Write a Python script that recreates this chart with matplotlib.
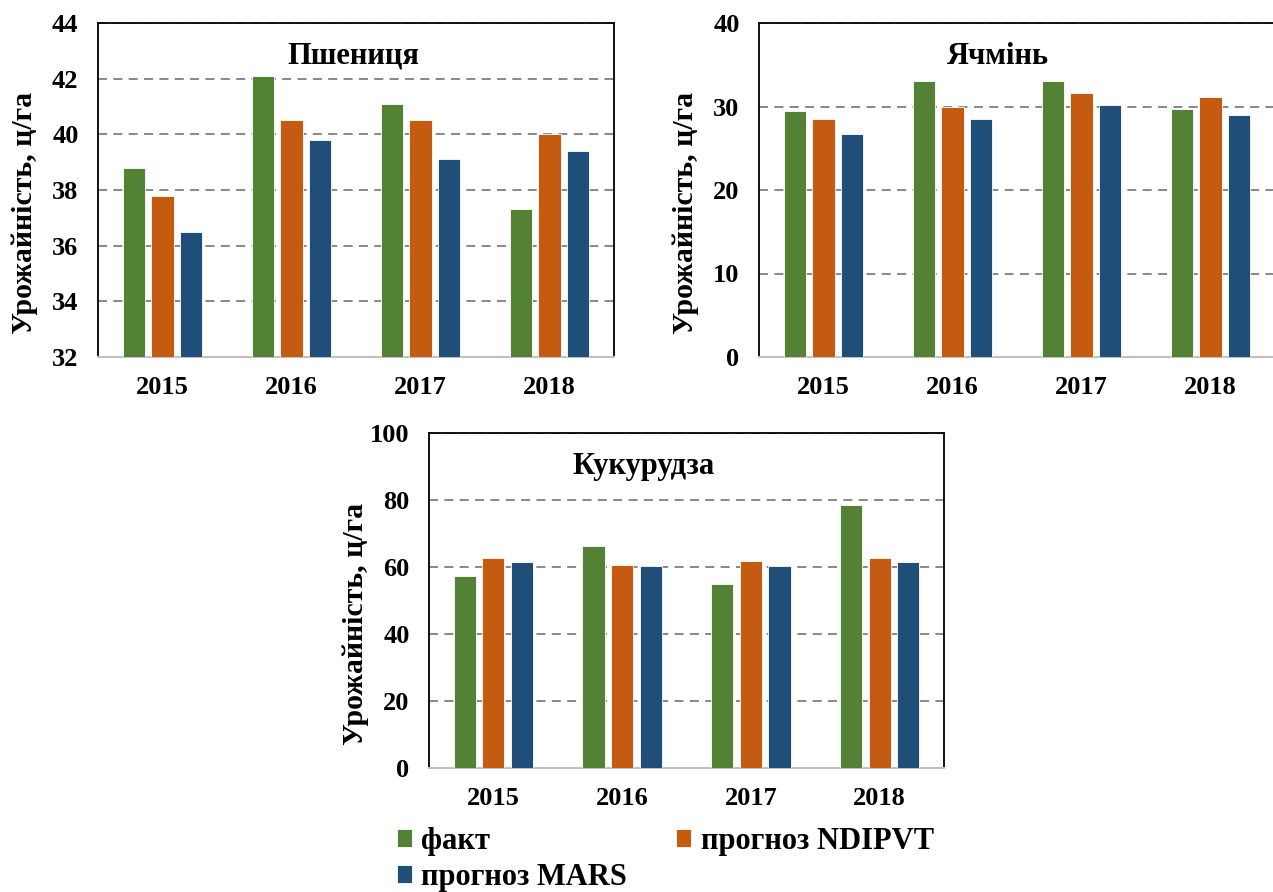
import matplotlib
matplotlib.use("Agg")
import matplotlib.pyplot as plt
import numpy as np

plt.rcParams['font.family'] = ['Liberation Serif', 'DejaVu Serif']
plt.rcParams['font.weight'] = 'bold'

years = ["2015", "2016", "2017", "2018"]

# Пшениця
wheat_fact = [38.8, 42.1, 41.1, 37.3]
wheat_ndipvt = [37.8, 40.5, 40.5, 40.0]
wheat_mars = [36.5, 39.8, 39.1, 39.4]

# Ячмінь
barley_fact = [29.5, 33.0, 33.0, 29.7]
barley_ndipvt = [28.5, 30.0, 31.6, 31.1]
barley_mars = [26.7, 28.5, 30.2, 29.0]

# Кукурудза
corn_fact = [57.3, 66.2, 54.9, 78.5]
corn_ndipvt = [62.6, 60.6, 61.8, 62.6]
corn_mars = [61.4, 60.2, 60.2, 61.4]

series_labels = ["факт", "прогноз NDIPVT", "прогноз MARS"]
colors = ["#548235", "#C55A11", "#1F4E79"]

W, H = 1273, 892
fig = plt.figure(figsize=(W / 100, H / 100), dpi=100)


def px_rect(l, t, r, b):
    return [l / W, 1 - b / H, (r - l) / W, (b - t) / H]


def panel(rect, title, data, ylim, yticks, title_x, hide_right=False):
    ax = fig.add_axes(rect)
    x = np.arange(len(years))
    bars = []
    for i, (vals, c) in enumerate(zip(data, colors)):
        b = ax.bar(x + (i - 1) * 0.222, np.array(vals) - ylim[0], 0.172,
                   bottom=ylim[0], color=c, edgecolor="white", linewidth=0.6,
                   zorder=3)
        bars.append(b)
    ax.set_xlim(-0.5, len(years) - 0.5)
    ax.set_ylim(*ylim)
    ax.set_yticks(yticks)
    ax.set_xticks(x)
    ax.set_xticklabels(years)
    ax.tick_params(axis="both", length=0, labelsize=19)
    ax.tick_params(axis="y", pad=14)
    ax.tick_params(axis="x", pad=14)
    ax.yaxis.grid(True, color="#7f7f7f", linestyle=(0, (5, 3.5)), linewidth=1.3)
    ax.set_axisbelow(True)
    for s in ["top", "left", "right"]:
        ax.spines[s].set_color("black")
        ax.spines[s].set_linewidth(1.3)
    ax.spines["bottom"].set_color("#c0c0c0")
    ax.spines["bottom"].set_linewidth(1.5)
    if hide_right:
        ax.spines["right"].set_visible(False)
    ax.set_ylabel("Урожайність, ц/га", fontsize=21.5, fontweight="bold")
    ax.yaxis.set_label_coords(-0.116, 0.43)
    ax.text(title_x, 0.90, title, transform=ax.transAxes, ha="center",
            va="center", fontsize=22, fontweight="bold")
    return bars


bars = panel(px_rect(98, 23, 614, 357), "Пшениця",
             [wheat_fact, wheat_ndipvt, wheat_mars], (32, 44),
             np.arange(32, 45, 2), 0.495)
panel(px_rect(759, 23, 1275, 357), "Ячмінь",
      [barley_fact, barley_ndipvt, barley_mars], (0, 40),
      np.arange(0, 41, 10), 0.463, hide_right=True)
panel(px_rect(429, 433, 944, 768), "Кукурудза",
      [corn_fact, corn_ndipvt, corn_mars], (0, 100),
      np.arange(0, 101, 20), 0.416)

# order so that rows read: факт, NDIPVT / MARS
handles = [bars[0], bars[2], bars[1]]
labels = [series_labels[0], series_labels[2], series_labels[1]]
fig.legend(handles, labels, ncol=2, loc="upper left",
           bbox_to_anchor=(397 / W, 1 - 827 / H), frameon=False,
           fontsize=22, handlelength=0.5, handleheight=0.5,
           handletextpad=0.3, columnspacing=1.6, labelspacing=0.22,
           borderpad=0, borderaxespad=0)

fig.savefig("out.png", dpi=100, facecolor="white")
